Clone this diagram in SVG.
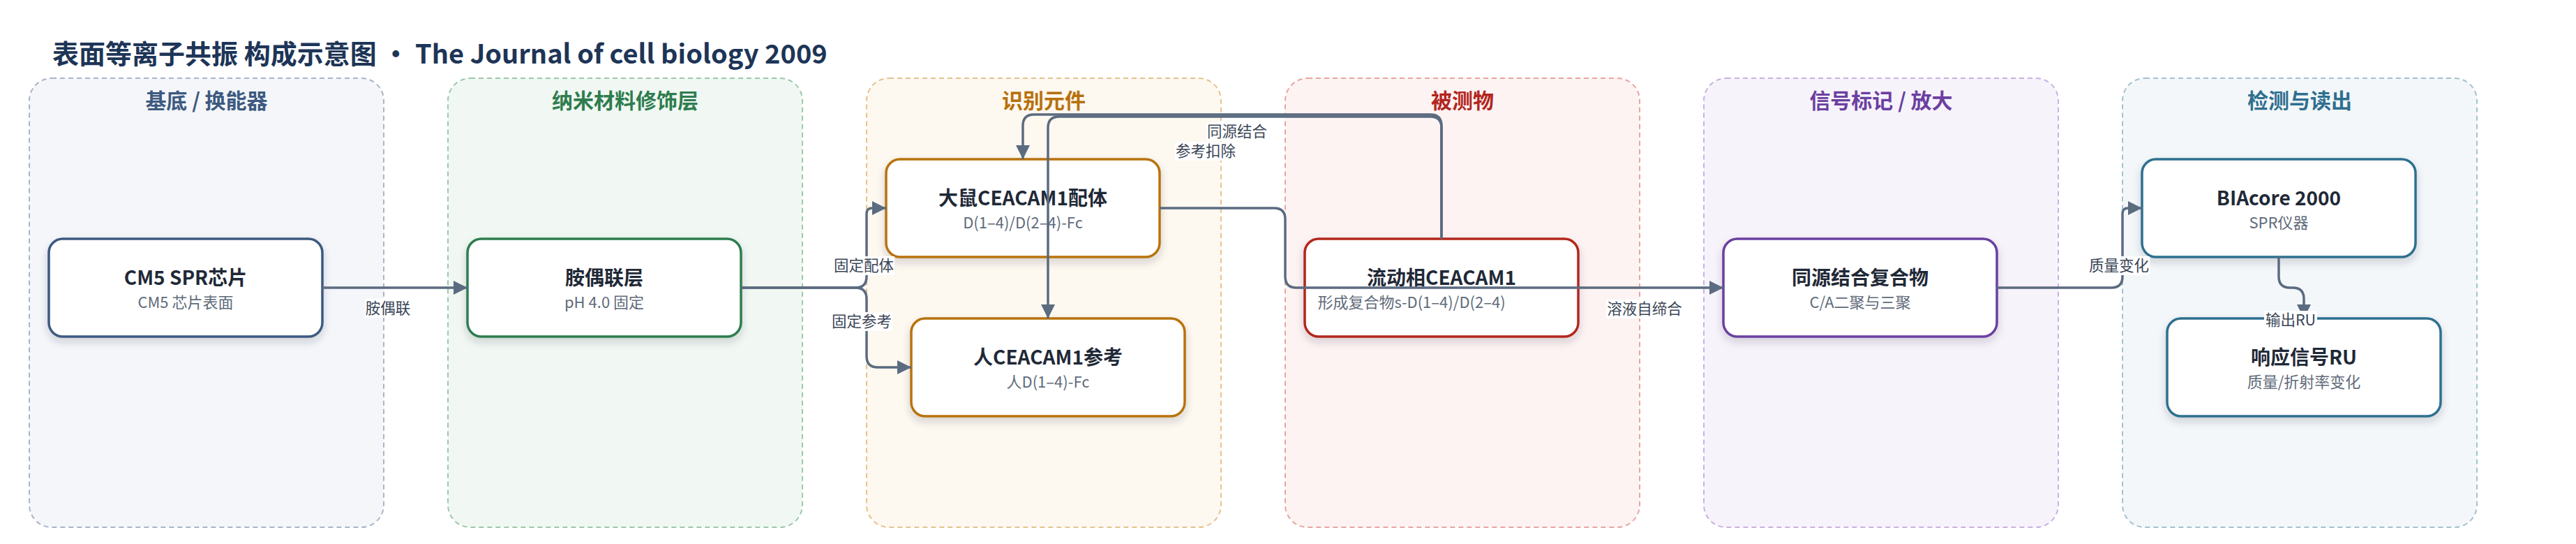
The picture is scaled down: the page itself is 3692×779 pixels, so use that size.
<svg xmlns="http://www.w3.org/2000/svg" width="3692" height="779" viewBox="0 0 3692 779">
<defs>
<style>
text{font-family:"Noto Sans CJK SC","Noto Sans",sans-serif}
.title{font-size:38px;font-weight:700;fill:#1d3557}
.lane{stroke-width:2;stroke-dasharray:7 5}
.lh{font-size:30px;font-weight:700;text-anchor:middle}
.node rect{fill:#fff;stroke-width:3.5;filter:url(#sh)}
.nt{font-size:28px;font-weight:700;fill:#1f2937;text-anchor:middle}
.ns{font-size:22px;fill:#5f6b7a;text-anchor:middle}
.edge{fill:none;stroke:#5b6b80;stroke-width:3.5}
.arr{marker-end:url(#ah)}
.lb rect{fill:#fff}
.lb text{font-size:21.5px;fill:#3a4556;text-anchor:middle}
</style>
<filter id="sh" x="-10%" y="-20%" width="120%" height="150%">
<feDropShadow dx="0" dy="6" stdDeviation="6" flood-color="#1e293b" flood-opacity="0.18"/>
</filter>
<marker id="ah" markerUnits="userSpaceOnUse" markerWidth="21" markerHeight="20" refX="20" refY="10" orient="auto">
<path d="M0,0 L20,10 L0,20 z" fill="#5b6b80"/>
</marker>
</defs>
<rect width="3692" height="779" fill="#fff"/>
<text class="title" x="75" y="91">表面等离子共振 构成示意图 · The Journal of cell biology 2009</text>
<g id="lanes">
<g id="lane-substrate"><rect class="lane" x="42" y="112" width="508" height="643" rx="32" fill="#f4f6fa" stroke="#a9b5c8"/><text class="lh" x="296" y="155" fill="#3d5a80">基底 / 换能器</text></g>
<g id="lane-nano"><rect class="lane" x="642" y="112" width="508" height="643" rx="32" fill="#f1f8f3" stroke="#9cc8aa"/><text class="lh" x="896" y="155" fill="#2e7d4f">纳米材料修饰层</text></g>
<g id="lane-recog"><rect class="lane" x="1242" y="112" width="508" height="643" rx="32" fill="#fdf8f0" stroke="#e6c28f"/><text class="lh" x="1496" y="155" fill="#b7700d">识别元件</text></g>
<g id="lane-analyte"><rect class="lane" x="1842" y="112" width="508" height="643" rx="32" fill="#fdf3f3" stroke="#e8a5a2"/><text class="lh" x="2096" y="155" fill="#b3261e">被测物</text></g>
<g id="lane-signal"><rect class="lane" x="2442" y="112" width="508" height="643" rx="32" fill="#f7f3fb" stroke="#c9b1e3"/><text class="lh" x="2696" y="155" fill="#6b3fa0">信号标记 / 放大</text></g>
<g id="lane-detect"><rect class="lane" x="3042" y="112" width="508" height="643" rx="32" fill="#f3f7f9" stroke="#a3c2cf"/><text class="lh" x="3296" y="155" fill="#2f6f8f">检测与读出</text></g>
</g>
<g id="nodes">
<g id="n-cm5" class="node"><rect x="70" y="342" width="392" height="140" rx="20" stroke="#3d5a80"/><text class="nt" x="266" y="408">CM5 SPR芯片</text><text class="ns" x="266" y="441">CM5 芯片表面</text></g>
<g id="n-amine" class="node"><rect x="670" y="342" width="392" height="140" rx="20" stroke="#2e7d4f"/><text class="nt" x="866" y="408">胺偶联层</text><text class="ns" x="866" y="441">pH 4.0 固定</text></g>
<g id="n-rat" class="node"><rect x="1270" y="228" width="392" height="140" rx="20" stroke="#b8730a"/><text class="nt" x="1466" y="294">大鼠CEACAM1配体</text><text class="ns" x="1466" y="327">D(1–4)/D(2–4)-Fc</text></g>
<g id="n-human" class="node"><rect x="1306" y="456" width="392" height="140" rx="20" stroke="#b8730a"/><text class="nt" x="1502" y="522">人CEACAM1参考</text><text class="ns" x="1502" y="555">人D(1–4)-Fc</text></g>
<g id="n-analyte" class="node"><rect x="1870" y="342" width="392" height="140" rx="20" stroke="#b3261e"/><text class="nt" x="2066" y="408">流动相CEACAM1</text><text class="ns" x="2023" y="441">形成复合物s-D(1–4)/D(2–4)</text></g>
<g id="n-complex" class="node"><rect x="2470" y="342" width="392" height="140" rx="20" stroke="#6b3fa0"/><text class="nt" x="2666" y="408">同源结合复合物</text><text class="ns" x="2666" y="441">C/A二聚与三聚</text></g>
<g id="n-biacore" class="node"><rect x="3070" y="228" width="392" height="140" rx="20" stroke="#2f6f8f"/><text class="nt" x="3266" y="294">BIAcore 2000</text><text class="ns" x="3266" y="327">SPR仪器</text></g>
<g id="n-ru" class="node"><rect x="3106" y="456" width="392" height="140" rx="20" stroke="#2f6f8f"/><text class="nt" x="3302" y="522">响应信号RU</text><text class="ns" x="3302" y="555">质量/折射率变化</text></g>
</g>
<g id="connectors">
<path class="edge arr" d="M462 412 H670"/>
<path class="edge arr" d="M1062 412 H1226 Q1242 412 1242 396 V306 Q1242 298 1250 298 H1270"/>
<path class="edge arr" d="M1062 412 H1226 Q1242 412 1242 428 V510 Q1242 526 1258 526 H1306"/>
<path class="edge arr" d="M2066 342 V180 Q2066 164 2050 164 H1482 Q1466 164 1466 180 V228"/>
<path class="edge arr" d="M2066 342 V183 Q2066 167 2050 167 H1518 Q1502 167 1502 183 V456"/>
<path class="edge arr" d="M1662 298 H1826 Q1842 298 1842 314 V396 Q1842 412 1858 412 H2470"/>
<path class="edge arr" d="M2862 412 H3026 Q3042 412 3042 396 V306 Q3042 298 3050 298 H3070"/>
<path class="edge arr" d="M3266 368 V396 Q3266 412 3282 412 H3286 Q3302 412 3302 428 V456"/>
</g>
<g id="edge-labels">
<g class="lb"><rect x="523" y="428" width="66" height="27"/><text x="556" y="449">胺偶联</text></g>
<g class="lb"><rect x="1194" y="367" width="88" height="27"/><text x="1238" y="388">固定配体</text></g>
<g class="lb"><rect x="1191" y="447" width="88" height="27"/><text x="1235" y="468">固定参考</text></g>
<g class="lb"><rect x="1729" y="175" width="88" height="27"/><text x="1773" y="196">同源结合</text></g>
<g class="lb"><rect x="1684" y="203" width="88" height="27"/><text x="1728" y="224">参考扣除</text></g>
<g class="lb"><rect x="2302" y="429" width="110" height="27"/><text x="2357" y="450">溶液自缔合</text></g>
<g class="lb"><rect x="2993" y="367" width="88" height="27"/><text x="3037" y="388">质量变化</text></g>
<g class="lb"><rect x="3245" y="445" width="76" height="27"/><text x="3283" y="466">输出RU</text></g>
</g>
</svg>
